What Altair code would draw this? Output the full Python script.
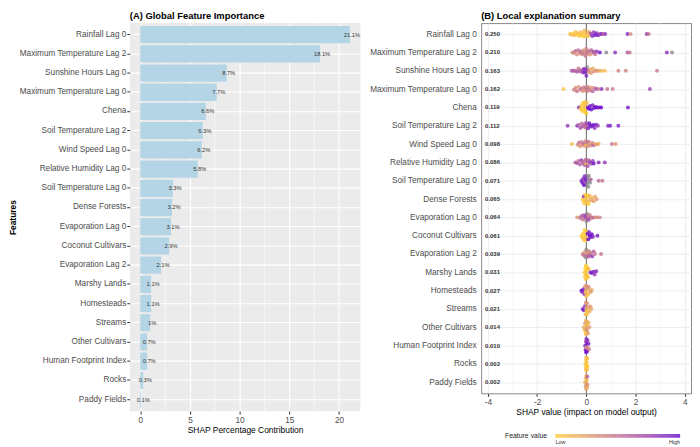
import altair as alt
import pandas as pd

features = [
    "Rainfall Lag 0", "Maximum Temperature Lag 2", "Sunshine Hours Lag 0",
    "Maximum Temperature Lag 0", "Chena", "Soil Temperature Lag 2",
    "Wind Speed Lag 0", "Relative Humidity Lag 0", "Soil Temperature Lag 0",
    "Dense Forests", "Evaporation Lag 0", "Coconut Cultivars",
    "Evaporation Lag 2", "Marshy Lands", "Homesteads", "Streams",
    "Other Cultivars", "Human Footprint Index", "Rocks", "Paddy Fields",
]
pct_contrib = [21.1, 18.1, 8.7, 7.7, 6.6, 6.3, 6.2, 5.8, 3.3, 3.2,
               3.1, 2.9, 2.1, 1.1, 1.1, 1.0, 0.7, 0.7, 0.3, 0.1]
pct_text = ["21.1%", "18.1%", "8.7%", "7.7%", "6.6%", "6.3%", "6.2%", "5.8%",
            "3.3%", "3.2%", "3.1%", "2.9%", "2.1%", "1.1%", "1.1%", "1%",
            "0.7%", "0.7%", "0.3%", "0.1%"]
mean_abs_text = ["0.250", "0.210", "0.163", "0.162", "0.119", "0.112", "0.098",
                 "0.086", "0.071", "0.065", "0.064", "0.061", "0.039", "0.031",
                 "0.027", "0.021", "0.014", "0.010", "0.002", "0.002"]

# (SHAP value, normalised feature value 0=low..1=high; None = missing -> grey)
pts_rainfall = [(-0.66, 0.05), (-0.6, 0.1), (-0.54, 0.0), (-0.48, 0.12), (-0.43, 0.05), (-0.38, 0.0),
                (-0.33, 0.08), (-0.28, 0.0), (-0.24, 0.1), (-0.2, 0.02), (-0.16, 0.05), (-0.12, 0.0),
                (-0.08, 0.1), (-0.05, 0.0), (-0.02, 0.05), (0.02, 0.15), (0.06, 0.05), (0.1, 0.2),
                (0.14, 0.1), (0.18, 0.7), (0.24, 0.9), (0.3, 0.8), (0.36, 1.0), (0.42, 0.85),
                (0.48, 0.95), (0.55, 0.7), (0.62, 0.9), (0.7, 0.6), (0.77, 0.8), (1.67, 0.9),
                (1.8, 0.35), (2.45, 0.8), (2.53, 0.5)]
pts_maxtemp2 = [(-0.56, 0.45), (-0.5, 0.3), (-0.44, 0.55), (-0.38, 0.35), (-0.33, 0.5), (-0.28, 0.3),
                (-0.23, 0.6), (-0.18, 0.4), (-0.14, 0.35), (-0.1, 0.5), (-0.06, 0.3), (-0.03, 0.45),
                (0.0, 0.4), (0.03, 0.55), (0.07, 0.35), (0.11, 0.5), (0.15, 0.3), (0.2, 0.6),
                (0.25, 0.4), (0.3, 0.7), (0.36, 0.5), (0.42, 0.8), (0.55, 0.95), (0.81, None),
                (1.17, 0.85), (1.67, 0.65), (1.76, 0.5), (3.27, 0.85), (3.48, None)]
pts_sunshine = [(-0.6, 0.6), (-0.52, 0.7), (-0.45, 0.55), (-0.38, 0.65), (-0.32, 0.5), (-0.26, 0.7),
                (-0.2, 0.6), (-0.15, 0.8), (-0.1, 0.9), (-0.06, 0.95), (-0.03, 0.85), (0.0, 0.9),
                (0.03, None), (0.06, 0.8), (0.1, 0.3), (0.15, 0.25), (0.2, 0.3), (0.26, 0.2),
                (0.32, 0.35), (0.38, 0.25), (0.45, 0.3), (0.52, 0.2), (0.62, 0.1), (0.75, 0.1),
                (1.3, 0.4), (1.6, 0.4), (2.87, 0.45)]
pts_maxtemp0 = [(-0.93, 0.05), (-0.5, 0.45), (-0.44, 0.35), (-0.38, 0.5), (-0.32, 0.3), (-0.26, 0.4),
                (-0.2, 0.55), (-0.15, 0.35), (-0.1, 0.45), (-0.06, 0.3), (-0.02, 0.5), (0.02, 0.4),
                (0.06, 0.35), (0.1, 0.55), (0.15, 0.4), (0.2, 0.3), (0.26, 0.6), (0.32, 0.45),
                (0.4, 0.7), (0.48, 0.5), (0.62, 0.85), (0.85, 0.5), (1.07, 0.45), (2.58, 0.75)]
pts_chena = [(-0.3, 0.9), (-0.24, 0.0), (-0.2, 0.05), (-0.17, 0.0), (-0.14, 0.02), (-0.12, 0.0),
             (-0.1, 0.05), (-0.08, 0.0), (-0.06, 0.03), (-0.04, 0.0), (-0.02, 0.05), (0.0, 0.0),
             (0.02, 0.1), (0.06, 0.9), (0.1, 1.0), (0.15, 0.95), (0.2, 1.0), (0.26, 0.9),
             (0.32, 1.0), (0.38, 0.95), (0.45, 1.0), (0.52, 0.9), (0.6, 1.0), (1.69, 0.95)]
pts_soiltemp2 = [(-0.76, 0.8), (-0.37, 0.85), (-0.3, 0.6), (-0.24, 0.7), (-0.18, 0.55), (-0.13, 0.75),
                 (-0.09, 0.6), (-0.05, 0.5), (-0.02, 0.65), (0.01, 0.55), (0.04, 0.7), (0.08, 0.9),
                 (0.12, 0.95), (0.17, 1.0), (0.22, 0.9), (0.28, 1.0), (0.34, 0.85), (0.4, 0.95),
                 (0.47, 0.8), (0.88, 0.85), (0.97, 0.9), (1.3, 0.9)]
pts_wind = [(-0.59, 0.1), (-0.35, 0.35), (-0.3, 0.5), (-0.25, 0.3), (-0.2, 0.45), (-0.15, 0.35),
            (-0.11, 0.55), (-0.07, 0.3), (-0.04, 0.4), (-0.01, 0.1), (0.02, 0.45), (0.05, 0.35),
            (0.09, 0.5), (0.13, 0.3), (0.18, 0.4), (0.24, 0.35), (0.3, 0.6), (0.37, 0.2),
            (0.44, 0.3), (0.5, 0.15), (1.04, 0.5), (1.19, 0.3)]
pts_humidity = [(-0.45, 0.6), (-0.38, 0.7), (-0.32, 0.55), (-0.26, 0.65), (-0.2, 0.8), (-0.15, 0.6),
                (-0.1, 0.5), (-0.06, 0.75), (-0.03, 0.55), (0.0, 0.15), (0.03, 0.6), (0.06, 0.7),
                (0.1, 0.55), (0.15, 0.9), (0.2, 0.65), (0.26, 0.8), (0.3, 0.95), (0.5, 0.9),
                (0.75, 0.85)]
pts_soiltemp0 = [(-0.2, 0.9), (-0.16, 0.95), (-0.13, 0.85), (-0.1, 1.0), (-0.07, 0.9), (-0.05, 0.8),
                 (-0.03, 0.95), (0.0, None), (0.02, None), (0.04, None), (0.06, None), (0.08, None),
                 (0.1, None), (0.12, None), (0.15, None), (0.18, 0.6), (0.5, 0.55), (0.65, 0.5)]
pts_dense = [(-0.15, 0.05), (-0.12, 0.0), (-0.1, 0.9), (-0.08, 0.05), (-0.05, 0.0), (-0.03, 0.1),
             (0.0, 0.0), (0.02, 0.05), (0.04, 0.0), (0.06, 0.1), (0.08, 0.05), (0.1, 0.0),
             (0.13, 0.1), (0.16, 0.15), (0.2, 0.2), (0.25, 0.15), (0.3, 0.25), (0.36, 0.2),
             (0.42, 0.25)]
pts_evap0 = [(-0.37, 0.3), (-0.25, 0.5), (-0.2, 0.6), (-0.15, 0.45), (-0.1, 0.7), (-0.06, 0.55),
             (-0.03, 0.8), (0.0, None), (0.02, None), (0.04, 0.6), (0.07, 0.5), (0.1, 0.75),
             (0.14, 0.45), (0.18, 0.6), (0.23, 0.4), (0.3, 0.55), (0.38, 0.35), (0.45, 0.35),
             (0.55, 0.4)]
pts_coconut = [(-0.2, 0.0), (-0.16, 0.05), (-0.13, 0.0), (-0.1, 0.02), (-0.08, 0.0), (-0.06, 0.05),
               (-0.04, 0.0), (-0.02, 0.03), (0.0, 0.0), (0.02, 0.05), (0.05, 0.95), (0.08, 1.0),
               (0.11, 0.9), (0.14, 1.0), (0.18, 0.95), (0.22, 1.0), (0.27, 0.9), (0.45, 0.95)]
pts_evap2 = [(-0.15, 0.4), (-0.1, 0.55), (-0.06, 0.35), (-0.03, None), (0.0, None), (0.02, 0.5),
             (0.05, 0.3), (0.08, 0.6), (0.11, 0.4), (0.15, 0.7), (0.19, 0.45), (0.24, 0.8),
             (0.3, 0.6), (0.35, 0.5), (0.6, 0.5)]
pts_marshy = [(-0.08, 0.0), (-0.06, 0.05), (-0.04, 0.0), (-0.03, 0.02), (-0.02, 0.0), (-0.01, 0.05),
              (0.0, 0.0), (0.01, 0.03), (0.02, 0.0), (0.03, 0.05), (0.05, 0.0), (0.07, 0.05),
              (0.1, 0.1), (0.16, 0.85), (0.22, 0.95), (0.28, 0.9), (0.34, 0.8), (0.4, 0.9)]
pts_homesteads = [(-0.2, 1.0), (-0.16, 0.9), (-0.12, 0.95), (-0.08, 0.85), (-0.05, 0.3), (-0.03, 0.1),
                  (-0.01, 0.2), (0.0, 0.05), (0.01, 0.3), (0.03, 0.1), (0.05, 0.25), (0.07, 0.05),
                  (0.1, 0.35), (0.14, 0.15), (0.18, 0.3), (0.22, 0.2)]
pts_streams = [(-0.15, 0.9), (-0.1, 0.95), (-0.06, 0.85), (-0.04, 0.1), (-0.02, 0.3), (0.0, 0.05),
               (0.01, 0.2), (0.02, 0.1), (0.04, 0.3), (0.06, 0.05), (0.09, 0.25), (0.13, 0.15),
               (0.17, 0.3), (0.2, 0.2)]
pts_othercult = [(-0.1, 0.2), (-0.07, 0.1), (-0.05, 0.3), (-0.03, 0.05), (-0.02, 0.15), (-0.01, 0.25),
                 (0.0, 0.1), (0.01, 0.05), (0.02, 0.2), (0.03, 0.3), (0.05, 0.1), (0.07, 0.25),
                 (0.09, 0.15), (0.12, 0.3)]
pts_footprint = [(-0.05, 0.9), (-0.03, 0.95), (-0.02, 0.8), (-0.01, 1.0), (0.0, 0.85), (0.01, 0.3),
                 (0.02, 0.9), (0.03, 0.95), (0.05, 0.85), (0.07, 0.35), (0.09, 0.9), (0.11, 0.4)]
pts_rocks = [(-0.04, 0.05), (-0.03, 0.1), (-0.02, 0.0), (-0.01, 0.05), (0.0, 0.1), (0.01, 0.0),
             (0.02, 0.05), (0.03, 0.1), (0.04, 0.05), (0.05, 0.0)]
pts_paddy = [(-0.05, 0.2), (-0.03, 0.3), (-0.02, 0.1), (-0.01, 0.25), (0.0, 0.15), (0.01, 0.3),
             (0.02, 0.1), (0.03, 0.2), (0.04, 0.6), (0.05, 0.3)]

points_by_feature = [pts_rainfall, pts_maxtemp2, pts_sunshine, pts_maxtemp0, pts_chena,
                     pts_soiltemp2, pts_wind, pts_humidity, pts_soiltemp0, pts_dense,
                     pts_evap0, pts_coconut, pts_evap2, pts_marshy, pts_homesteads,
                     pts_streams, pts_othercult, pts_footprint, pts_rocks, pts_paddy]

x_ticks_a = [0, 5, 10, 15, 20]
minor_a = [2.5, 7.5, 12.5, 17.5]
x_ticks_b = [-4, -2, 0, 2, 4]
minor_b = [-3, -1, 1, 3]

FONT = "Liberation Sans"
LABEL_SIZE = 8.3

# ---- sina-like vertical spread (layout only: width follows local point density)
PATTERN = [0, 0.55, -0.55, 0.9, -0.9, 0.25, -0.25, 0.75, -0.75, 0.4, -0.4, 1.0, -1.0]
rows = []
for i, (f, pts) in enumerate(zip(features, points_by_feature)):
    srt = sorted(pts, key=lambda p: p[0])
    for k, (s, v) in enumerate(srt):
        dens = sum(1 for (t, _) in srt if abs(t - s) <= 0.06) - 1
        half = min(1.0, dens / 6.0) * 0.4
        rows.append(dict(feature=f, shap=s, fv=v, yy=i + PATTERN[k % len(PATTERN)] * half))
df_pts = pd.DataFrame(rows)
df_col = df_pts[df_pts["fv"].notna()].copy()
df_na = df_pts[df_pts["fv"].isna()].drop(columns=["fv"]).copy()

# ---------------- Panel A ----------------
axis_common = dict(domain=False, tickColor="#333333", tickSize=3, labelFont=FONT,
                   labelFontSize=LABEL_SIZE, labelColor="#4D4D4D", titleFont=FONT,
                   titleFontSize=8.5, titleColor="black", labelPadding=1, titlePadding=2)

df_bar = pd.DataFrame({"feature": features, "pct": pct_contrib, "label": pct_text})
xa = alt.X("pct:Q", scale=alt.Scale(domain=[-1.055, 22.155], nice=False, zero=False),
           axis=alt.Axis(values=x_ticks_a, title="SHAP Percentage Contribution", grid=True,
                         gridColor="white", gridWidth=1.1, titleFontWeight="normal", **axis_common))
ya = alt.Y("feature:N", sort=features, scale=alt.Scale(paddingInner=0.1, paddingOuter=0.15),
           axis=alt.Axis(title="Features", titleFontWeight="bold", grid=True, gridColor="white",
                         gridWidth=1.1, bandPosition=0.5, **axis_common))

minor_rules_a = alt.Chart(pd.DataFrame({"pct": minor_a})).mark_rule(
    color="white", strokeWidth=0.55).encode(x=xa)
bars = alt.Chart(df_bar).mark_bar(color="#B4D5E5").encode(x=xa, x2=alt.datum(0), y=ya)
bar_text = alt.Chart(df_bar).mark_text(font=FONT, fontSize=5.8, color="#333333", dx=2,
                                       align="center", baseline="middle").encode(
    x=xa, y=ya, text="label:N")

panel_a = alt.layer(minor_rules_a, bars, bar_text).properties(
    width=233, height=392,
    title=alt.TitleParams("(A) Global Feature Importance", anchor="start", frame="group",
                          font=FONT, fontSize=9.5, fontWeight="bold", color="black", offset=2),
    view=alt.ViewBackground(fill="#EBEBEB", strokeWidth=0),
)

# ---------------- Panel B ----------------
label_expr = "[" + ",".join("'" + f + "'" for f in features) + "][datum.value]"
xb = alt.X("shap:Q", scale=alt.Scale(domain=[-4.27, 4.25], nice=False, zero=False),
           axis=alt.Axis(values=x_ticks_b, title="SHAP value (impact on model output)", grid=True,
                         gridColor="#EBEBEB", gridWidth=0.9, titleFontWeight="normal",
                         labelExpr="replace(datum.label, '\u2212', '-')", **axis_common))
yb = alt.Y("yy:Q", scale=alt.Scale(domain=[-0.6, 19.6], reverse=True, nice=False, zero=False),
           axis=alt.Axis(values=list(range(20)), labelExpr=label_expr, title=None, grid=True,
                         gridColor="#EBEBEB", gridWidth=0.9, ticks=False, domain=False,
                         labelFont=FONT, labelFontSize=LABEL_SIZE, labelColor="#4D4D4D",
                         labelPadding=5))

minor_rules_b = alt.Chart(pd.DataFrame({"shap": minor_b})).mark_rule(
    color="#F2F2F2", strokeWidth=0.5).encode(x=xb)
zero_line = alt.Chart(pd.DataFrame({"shap": [0]})).mark_rule(
    color="#666666", strokeWidth=1).encode(x=xb)
pts_na = alt.Chart(df_na).mark_circle(size=16, opacity=0.8, color="#8C8C8C").encode(x=xb, y=yb)
pts_col = alt.Chart(df_col).mark_circle(size=16, opacity=0.8).encode(
    x=xb, y=yb,
    color=alt.Color("fv:Q",
                    scale=alt.Scale(domain=[0, 1], range=["#FFCC33", "#6600CC"], interpolate="lab"),
                    legend=alt.Legend(orient="none", legendX=379, legendY=415, direction="horizontal",
                                      title="Feature value", titleOrient="left", titleFont=FONT,
                                      titleFontSize=7, titleFontWeight="normal", titleColor="#1A1A1A",
                                      titlePadding=8, gradientLength=126, gradientThickness=4,
                                      gradientStrokeWidth=0, values=[0, 1],
                                      labelExpr="datum.value == 0 ? 'Low' : 'High'",
                                      labelFont=FONT, labelFontSize=5.5, labelColor="#333333",
                                      labelOffset=2)),
)
df_mean = pd.DataFrame({"yy": list(range(20)), "label": mean_abs_text})
mean_text = alt.Chart(df_mean).mark_text(font=FONT, fontSize=6, fontWeight="bold",
                                         color="#333333", align="left", baseline="middle").encode(
    x=alt.value(4), y=yb, text="label:N")

panel_b = alt.layer(minor_rules_b, zero_line, pts_na, pts_col, mean_text).properties(
    width=212, height=374,
    title=alt.TitleParams("(B) Local explanation summary", anchor="start", frame="group",
                          font=FONT, fontSize=9.5, fontWeight="bold", color="black", offset=2),
    view=alt.ViewBackground(fill="white", stroke="#888888", strokeWidth=1),
)

chart = alt.hconcat(panel_a, panel_b, spacing=8).properties(padding=0).configure(font=FONT)

chart.save("out.html", embed_options={"renderer": "svg", "actions": False})
